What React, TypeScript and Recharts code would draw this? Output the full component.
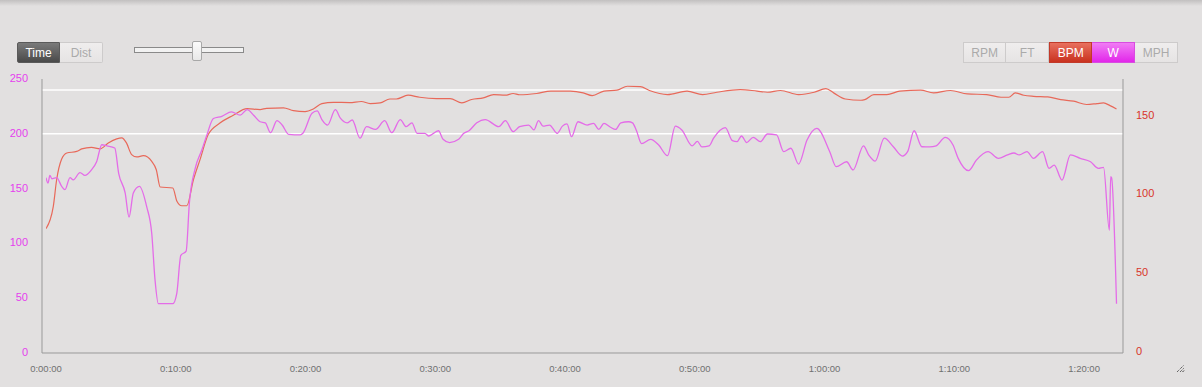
import React from "react";
import { LineChart, Line, XAxis, YAxis, ReferenceLine } from "recharts";

// Time in minutes
const wTime = [0, 0.15, 0.3, 0.45, 0.82, 1.21, 1.46, 1.85, 2.1, 2.62, 3.0, 3.5, 3.9, 4.3, 4.7, 5.3, 5.6, 6.1, 6.4, 6.73, 7.2, 7.76, 8.15, 8.4, 8.66, 9.77, 10.08, 10.39, 10.8, 11.05, 11.5, 12.0, 12.4, 12.9, 13.55, 14.3, 14.96, 15.5, 16.0, 16.5, 16.9, 17.3, 17.8, 18.2, 18.7, 19.6, 19.8, 20.5, 20.9, 21.26, 21.7, 22.3, 22.7, 23.2, 23.6, 24.2, 24.7, 25.4, 26.1, 26.65, 27.3, 27.76, 28.2, 28.6, 29.2, 29.5, 30.25, 30.6, 31.1, 31.8, 32.2, 32.6, 33.2, 33.85, 34.9, 35.4, 36.0, 36.5, 37.2, 37.6, 37.96, 38.3, 38.8, 39.4, 39.8, 40.15, 40.5, 41.0, 41.7, 42.2, 42.6, 43.0, 43.5, 43.9, 44.3, 44.9, 45.2, 45.5, 45.9, 46.6, 47.2, 47.9, 48.5, 49.0, 49.8, 50.2, 50.55, 51.1, 51.45, 52.35, 52.9, 53.25, 53.6, 54.0, 54.5, 55.05, 55.6, 56.3, 56.85, 57.4, 58.0, 58.65, 59.4, 60.4, 60.9, 61.7, 62.2, 63.0, 63.4, 63.9, 64.6, 65.3, 66.0, 66.4, 66.9, 67.5, 68.1, 68.6, 69.3, 69.9, 70.3, 71.1, 71.7, 72.6, 73.4, 74.1, 74.6, 75.0, 75.6, 76.1, 76.8, 77.3, 77.7, 78.3, 78.95, 79.7, 80.5, 81.1, 81.5, 81.95, 82.05, 82.12, 82.5];
const wValues = [160, 155, 162, 159, 160, 152, 149, 160, 158, 164.5, 162, 167, 174.5, 190, 189, 187, 164, 146, 124, 146, 152, 133.5, 109, 67, 45, 45, 54.5, 89, 93, 137, 168.5, 185, 199, 214, 216, 220, 217, 222, 217, 211, 210, 201, 212, 208, 199.5, 199, 200.5, 218.7, 221, 213, 208, 222, 214, 210, 212.6, 196, 206.5, 204, 212, 201, 213, 206.5, 210, 200.4, 200.4, 198, 202.8, 195, 192, 195, 200.4, 202.8, 210, 213, 206.5, 212, 202, 206.5, 208, 203.5, 212, 207, 208, 200.4, 207, 209, 197.4, 211, 208, 209.5, 204, 209.5, 206, 204, 210, 211, 210, 203, 191, 195, 190, 180, 207, 203.5, 189, 193, 188, 189, 196, 205.6, 193.7, 192.8, 198, 192, 196.8, 192.8, 199.8, 199, 183.7, 186.8, 172.4, 194.3, 205, 183.7, 170, 174.5, 167, 189, 180.7, 175, 196, 188.2, 179.7, 183.7, 202.8, 188.2, 188, 189, 196.8, 189.8, 177.6, 166.4, 176, 183.7, 177.6, 180.7, 182.5, 180.7, 183.7, 177.6, 183.7, 168.5, 171.5, 157.8, 180.7, 177.6, 174.5, 168.5, 169.4, 112, 161, 160, 45];

const bpmTime = [0, 0.56, 0.82, 1.2, 1.6, 2.37, 2.75, 3.5, 4.16, 4.8, 5.45, 5.84, 6.2, 6.6, 7.0, 7.5, 8.15, 8.5, 8.8, 9.77, 10.1, 10.46, 10.85, 11.36, 11.87, 12.5, 13.4, 14.4, 15.5, 16.5, 17.0, 18.3, 19.07, 19.97, 20.6, 21.26, 22.15, 23.4, 24.3, 24.98, 25.75, 26.5, 27.0, 27.9, 28.8, 30.1, 31.15, 32.05, 32.8, 33.7, 34.5, 35.4, 36.0, 36.5, 37.8, 38.9, 40.4, 41.4, 42.1, 43.0, 44.0, 44.8, 45.8, 46.5, 47.9, 49.4, 50.6, 51.7, 53.5, 54.8, 55.6, 56.6, 58.0, 59.2, 60.1, 60.7, 61.6, 62.8, 63.1, 63.8, 64.8, 65.8, 67.4, 68.4, 69.7, 71.0, 72.5, 73.6, 74.2, 74.7, 75.35, 76.1, 77.2, 78.2, 79.2, 80.2, 81.0, 81.5, 82.0, 82.5];
const bpmValues = [79, 93, 110, 123, 127, 128, 129.6, 130.6, 129.6, 133.4, 136, 136.6, 133.4, 126, 124.5, 125.3, 121.7, 116.4, 105.4, 104.8, 96.2, 93.5, 93.5, 110, 122.8, 138.7, 146, 150.8, 155.2, 154.6, 155.4, 155.7, 153.9, 153.3, 155, 158.4, 159.2, 159, 159.7, 158.4, 158.8, 161.3, 161.3, 163.7, 162.4, 161.6, 161.6, 158.8, 161, 162, 164.1, 163.7, 164.8, 164, 164.8, 166.3, 166.3, 165.2, 163.5, 166.3, 166.9, 169.4, 169.2, 166.7, 164.1, 166.3, 164.1, 165.6, 167.3, 166.3, 165.6, 166.7, 164.1, 165.6, 167.9, 165.2, 161.3, 160.5, 160.9, 164.1, 164.1, 166.3, 166.9, 165.2, 166.7, 164.5, 164.1, 162.4, 162.4, 165.2, 163.7, 163, 162.6, 160.9, 159.9, 157.8, 158.4, 158.8, 157.1, 155];

const timeTicks = [0, 10, 20, 30, 40, 50, 60, 70, 80];
const wTicks = [0, 50, 100, 150, 200, 250];
const bpmTicks = [0, 50, 100, 150];
const wZoneLines = [200, 240];
const leftButtons = ["Time", "Dist"];
const rightButtons = ["RPM", "FT", "BPM", "W", "MPH"];

const wData = wTime.map((t, i) => ({ t, w: wValues[i] }));
const bpmData = bpmTime.map((t, i) => ({ t, bpm: bpmValues[i] }));

const fmtTime = (v: number) => `${Math.floor(v / 60)}:${String(v % 60).padStart(2, "0")}:00`;

const FONT = "'Liberation Sans', Arial, Helvetica, sans-serif";

const btnBase: React.CSSProperties = {
  position: "absolute",
  top: 0,
  height: 21,
  boxSizing: "border-box",
  display: "flex",
  alignItems: "center",
  justifyContent: "center",
  fontFamily: FONT,
  fontSize: 12,
};

const rightWidths = [43.4, 42.6, 43.4, 42.6, 43.4];

export default function App() {
  let acc = 0;
  const rightLefts = rightWidths.map((w) => {
    const l = acc;
    acc += w;
    return l;
  });
  return (
    <div
      style={{
        position: "fixed",
        left: 0,
        top: 0,
        width: 1202,
        height: 387,
        background: "#e2e0e0",
        overflow: "hidden",
        fontFamily: FONT,
      }}
    >
      <div style={{ position: "absolute", left: 0, top: 0, width: 1202, height: 6, background: "linear-gradient(#c2c0c0, #e2e0e0)" }} />

      {/* Time / Dist toggle */}
      <div style={{ position: "absolute", left: 17, top: 42, width: 86, height: 21 }}>
        <div
          style={{
            ...btnBase,
            left: 0,
            width: 43,
            background: "linear-gradient(#7a7a7a, #4a4a4a)",
            color: "#fff",
            border: "1px solid #5a5a5a",
            borderRadius: "2px 0 0 2px",
          }}
        >
          {leftButtons[0]}
        </div>
        <div
          style={{
            ...btnBase,
            left: 43,
            width: 43,
            background: "linear-gradient(#efeded, #e6e4e4)",
            color: "#aaa",
            border: "1px solid #cdcbcb",
            borderLeft: "none",
            borderRadius: "0 2px 2px 0",
          }}
        >
          {leftButtons[1]}
        </div>
      </div>

      {/* slider */}
      <div style={{ position: "absolute", left: 134, top: 47, width: 110, height: 6, boxSizing: "border-box", border: "1px solid #8a8a8a", background: "#f2f2f2" }} />
      <div style={{ position: "absolute", left: 192, top: 41, width: 10, height: 20, boxSizing: "border-box", border: "1px solid #a8a8a8", borderRadius: 2, background: "linear-gradient(#fbfbfb, #e8e8e8)" }} />

      {/* right buttons */}
      <div style={{ position: "absolute", left: 963, top: 42, width: 216, height: 21 }}>
        {rightButtons.map((b, i) => {
          let style: React.CSSProperties = {
            ...btnBase,
            left: rightLefts[i],
            width: rightWidths[i],
            background: "linear-gradient(#efeded, #e6e4e4)",
            color: "#aaa",
            border: "1px solid #cdcbcb",
            borderLeft: i === 0 ? "1px solid #cdcbcb" : "none",
          };
          if (b === "BPM") {
            style = { ...style, background: "linear-gradient(#e8705e, #c9321f)", color: "#fff", border: "1px solid #c23a2a", borderLeft: "1px solid #c23a2a" };
          }
          if (b === "W") {
            style = { ...style, background: "linear-gradient(#f07cf4, #e226ea)", color: "#fff", border: "1px solid #d84ce0", borderLeft: "none" };
          }
          return (
            <div key={b} style={style}>
              {b}
            </div>
          );
        })}
      </div>

      <div style={{ position: "absolute", left: 0, top: 0 }}>
        <LineChart width={1202} height={387} margin={{ top: 79, right: 0, bottom: 4, left: 0 }}>
          <XAxis
            dataKey="t"
            type="number"
            domain={[0, 83]}
            ticks={timeTicks}
            tickFormatter={fmtTime}
            allowDataOverflow
            padding={{ left: 4, right: 0 }}
            height={30}
            tickLine={false}
            axisLine={{ stroke: "#999" }}
            tick={{ fill: "#707070", fontSize: 9.5, fontFamily: FONT }}
            tickMargin={6}
          />
          <YAxis
            yAxisId="w"
            orientation="left"
            width={42}
            domain={[0, 250]}
            ticks={wTicks}
            tickLine={false}
            axisLine={{ stroke: "#999" }}
            tick={{ fill: "#e540ee", fontSize: 11, fontFamily: FONT, dy: -1 }}
            tickMargin={8}
          />
          <YAxis
            yAxisId="bpm"
            orientation="right"
            width={79}
            domain={[0, 174]}
            ticks={bpmTicks}
            tickLine={false}
            axisLine={{ stroke: "#999" }}
            tick={{ fill: "#d8352a", fontSize: 11, fontFamily: FONT, dy: -2 }}
            tickMargin={7}
          />
          {wZoneLines.map((v) => (
            <ReferenceLine key={v} yAxisId="w" y={v} stroke="#ffffff" strokeWidth={1.5} />
          ))}
          <Line
            yAxisId="bpm"
            data={bpmData}
            dataKey="bpm"
            type="monotone"
            stroke="#e8695a"
            strokeWidth={1.2}
            dot={false}
            isAnimationActive={false}
          />
          <Line
            yAxisId="w"
            data={wData}
            dataKey="w"
            type="monotone"
            stroke="#e46ce8"
            strokeWidth={1.3}
            dot={false}
            isAnimationActive={false}
          />
        </LineChart>
      </div>

      {/* resize grip */}
      <svg style={{ position: "absolute", left: 1176, top: 364 }} width={9} height={9}>
        <line x1={1} y1={8} x2={8} y2={1} stroke="#333" strokeWidth={1} strokeDasharray="1 1" />
        <line x1={4} y1={8} x2={8} y2={4} stroke="#333" strokeWidth={1} strokeDasharray="1 1" />
        <line x1={6.5} y1={8} x2={8} y2={6.5} stroke="#333" strokeWidth={1} />
      </svg>
    </div>
  );
}
